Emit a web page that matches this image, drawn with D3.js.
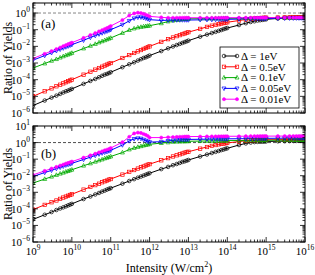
<!DOCTYPE html>
<html>
<head>
<meta charset="utf-8">
<script src="https://cdn.jsdelivr.net/npm/d3@7"></script>
<style>
body { margin: 0; background: #fff; }
text { font-family: "Liberation Serif", "DejaVu Serif", serif; }
</style>
</head>
<body>
<svg id="chart" width="315" height="275"></svg>
<script>
// intensity (W/cm^2): 1..9 x 10^n for n = 9..15, then 1e16
var intensity = [
  1e9, 2e9, 3e9, 4e9, 5e9, 6e9, 7e9, 8e9, 9e9,
  1e10, 2e10, 3e10, 4e10, 5e10, 6e10, 7e10, 8e10, 9e10,
  1e11, 2e11, 3e11, 4e11, 5e11, 6e11, 7e11, 8e11, 9e11,
  1e12, 2e12, 3e12, 4e12, 5e12, 6e12, 7e12, 8e12, 9e12,
  1e13, 2e13, 3e13, 4e13, 5e13, 6e13, 7e13, 8e13, 9e13,
  1e14, 2e14, 3e14, 4e14, 5e14, 6e14, 7e14, 8e14, 9e14,
  1e15, 2e15, 3e15, 4e15, 5e15, 6e15, 7e15, 8e15, 9e15,
  1e16
];

var labels = ["\u0394 = 1eV", "\u0394 = 0.5eV", "\u0394 = 0.1eV", "\u0394 = 0.05eV", "\u0394 = 0.01eV"];

// panel (a)
var a_1eV = [
  2.8e-6, 5.6e-6, 8.4e-6, 1.1e-5, 1.4e-5, 1.7e-5, 2.0e-5, 2.2e-5, 2.5e-5,
  2.8e-5, 5.6e-5, 8.4e-5, 1.1e-4, 1.4e-4, 1.7e-4, 2.0e-4, 2.2e-4, 2.5e-4,
  2.8e-4, 5.6e-4, 8.4e-4, 1.1e-3, 1.4e-3, 1.7e-3, 2.0e-3, 2.2e-3, 2.5e-3,
  2.8e-3, 5.2e-3, 7.6e-3, 9.8e-3, 1.2e-2, 1.4e-2, 1.6e-2, 1.8e-2, 2.0e-2,
  2.2e-2, 3.8e-2, 5.1e-2, 6.3e-2, 7.4e-2, 8.5e-2, 9.5e-2, 0.107, 0.117,
  0.126, 0.19, 0.245, 0.29, 0.32, 0.355, 0.37, 0.39, 0.41,
  0.42, 0.47, 0.51, 0.525, 0.54, 0.55, 0.555, 0.56, 0.57,
  0.575
];
var a_05eV = [
  1.0e-5, 2.0e-5, 3.0e-5, 4.0e-5, 5.0e-5, 6.0e-5, 7.0e-5, 8.0e-5, 9.0e-5,
  1.0e-4, 2.0e-4, 3.0e-4, 4.0e-4, 5.0e-4, 6.0e-4, 7.0e-4, 8.0e-4, 9.0e-4,
  1.0e-3, 2.0e-3, 3.0e-3, 4.0e-3, 5.0e-3, 6.0e-3, 7.0e-3, 8.0e-3, 9.0e-3,
  1.0e-2, 1.86e-2, 2.7e-2, 3.4e-2, 4.1e-2, 4.7e-2, 5.4e-2, 5.9e-2, 6.5e-2,
  7.1e-2, 0.112, 0.148, 0.174, 0.195, 0.214, 0.234, 0.25, 0.266,
  0.28, 0.355, 0.41, 0.447, 0.47, 0.49, 0.50, 0.51, 0.52,
  0.525, 0.54, 0.55, 0.55, 0.555, 0.56, 0.56, 0.565, 0.565,
  0.57
];
var a_01eV = [
  5.0e-4, 9.3e-4, 1.35e-3, 1.7e-3, 2.1e-3, 2.5e-3, 2.9e-3, 3.2e-3, 3.6e-3,
  4.0e-3, 7.4e-3, 1.07e-2, 1.38e-2, 1.7e-2, 2.0e-2, 2.3e-2, 2.6e-2, 2.9e-2,
  3.2e-2, 6.3e-2, 9.5e-2, 0.117, 0.135, 0.145, 0.155, 0.162, 0.168,
  0.174, 0.24, 0.31, 0.35, 0.38, 0.40, 0.42, 0.43, 0.44,
  0.45, 0.46, 0.46, 0.465, 0.47, 0.47, 0.47, 0.475, 0.475,
  0.48, 0.48, 0.485, 0.49, 0.49, 0.49, 0.495, 0.495, 0.5,
  0.5, 0.5, 0.505, 0.51, 0.51, 0.51, 0.515, 0.515, 0.52,
  0.52
];
var a_005eV = [
  1.48e-3, 2.8e-3, 4.1e-3, 5.4e-3, 6.6e-3, 7.8e-3, 9.1e-3, 1.02e-2, 1.15e-2,
  1.26e-2, 2.3e-2, 3.4e-2, 4.4e-2, 5.4e-2, 6.3e-2, 7.2e-2, 8.1e-2, 9.1e-2,
  0.1, 0.2, 0.34, 0.48, 0.55, 0.56, 0.52, 0.48, 0.44,
  0.40, 0.36, 0.37, 0.37, 0.38, 0.38, 0.38, 0.38, 0.38,
  0.38, 0.39, 0.395, 0.40, 0.405, 0.41, 0.41, 0.415, 0.415,
  0.42, 0.43, 0.44, 0.445, 0.45, 0.455, 0.46, 0.46, 0.465,
  0.47, 0.48, 0.485, 0.49, 0.49, 0.495, 0.495, 0.5, 0.5,
  0.5
];
var a_001eV = [
  1.86e-3, 3.6e-3, 5.2e-3, 6.9e-3, 8.5e-3, 1.02e-2, 1.18e-2, 1.35e-2, 1.5e-2,
  1.66e-2, 3.2e-2, 4.8e-2, 6.3e-2, 7.9e-2, 9.3e-2, 0.11, 0.126, 0.141,
  0.166, 0.38, 0.71, 0.95, 1.05, 1.0, 0.89, 0.79, 0.71,
  0.63, 0.55, 0.52, 0.52, 0.52, 0.52, 0.52, 0.52, 0.52,
  0.52, 0.52, 0.52, 0.52, 0.52, 0.52, 0.52, 0.52, 0.52,
  0.525, 0.525, 0.525, 0.525, 0.525, 0.525, 0.525, 0.525, 0.525,
  0.53, 0.53, 0.53, 0.53, 0.53, 0.53, 0.535, 0.535, 0.535,
  0.54
];

// panel (b)
var b_1eV = [
  2.3e-5, 4.4e-5, 6.4e-5, 8.5e-5, 1.05e-4, 1.23e-4, 1.41e-4, 1.62e-4, 1.8e-4,
  2.0e-4, 3.9e-4, 5.6e-4, 7.4e-4, 9.1e-4, 1.1e-3, 1.26e-3, 1.45e-3, 1.62e-3,
  1.78e-3, 3.3e-3, 4.8e-3, 6.2e-3, 7.6e-3, 8.9e-3, 1.02e-2, 1.15e-2, 1.29e-2,
  1.41e-2, 2.5e-2, 3.4e-2, 4.3e-2, 5.1e-2, 5.9e-2, 6.8e-2, 7.4e-2, 8.1e-2,
  8.9e-2, 0.145, 0.19, 0.234, 0.275, 0.31, 0.35, 0.38, 0.42,
  0.45, 0.71, 0.89, 1.0, 1.07, 1.1, 1.12, 1.13, 1.15,
  1.17, 1.2, 1.22, 1.24, 1.25, 1.26, 1.27, 1.28, 1.29,
  1.3
];
var b_05eV = [
  9.1e-5, 1.74e-4, 2.5e-4, 3.2e-4, 4.0e-4, 4.8e-4, 5.5e-4, 6.2e-4, 6.9e-4,
  7.6e-4, 1.45e-3, 2.1e-3, 2.7e-3, 3.3e-3, 4.0e-3, 4.6e-3, 5.1e-3, 5.8e-3,
  6.3e-3, 1.17e-2, 1.7e-2, 2.2e-2, 2.7e-2, 3.2e-2, 3.6e-2, 4.1e-2, 4.6e-2,
  5.0e-2, 8.5e-2, 0.115, 0.145, 0.17, 0.195, 0.22, 0.245, 0.27,
  0.28, 0.43, 0.54, 0.63, 0.71, 0.78, 0.83, 0.87, 0.91,
  0.95, 1.15, 1.29, 1.35, 1.38, 1.41, 1.43, 1.45, 1.46,
  1.48, 1.5, 1.52, 1.53, 1.54, 1.55, 1.55, 1.56, 1.56,
  1.58
];
var b_01eV = [
  3.6e-3, 6.3e-3, 8.7e-3, 1.1e-2, 1.32e-2, 1.51e-2, 1.74e-2, 1.9e-2, 2.1e-2,
  2.3e-2, 4.0e-2, 5.5e-2, 6.9e-2, 8.3e-2, 9.5e-2, 0.11, 0.12, 0.132,
  0.145, 0.25, 0.38, 0.47, 0.54, 0.6, 0.66, 0.71, 0.76,
  0.79, 0.93, 1.02, 1.1, 1.13, 1.15, 1.17, 1.18, 1.19,
  1.2, 1.23, 1.25, 1.26, 1.27, 1.28, 1.29, 1.29, 1.3,
  1.31, 1.33, 1.34, 1.35, 1.36, 1.36, 1.37, 1.37, 1.38,
  1.38, 1.39, 1.4, 1.4, 1.41, 1.41, 1.42, 1.42, 1.42,
  1.43
];
var b_005eV = [
  8.9e-3, 1.55e-2, 2.1e-2, 2.7e-2, 3.2e-2, 3.7e-2, 4.3e-2, 4.7e-2, 5.1e-2,
  5.6e-2, 9.5e-2, 0.132, 0.166, 0.2, 0.23, 0.257, 0.28, 0.31,
  0.34, 0.71, 1.26, 1.66, 1.82, 1.74, 1.51, 1.32, 1.17,
  1.07, 1.12, 1.26, 1.35, 1.41, 1.45, 1.48, 1.5, 1.52,
  1.55, 1.58, 1.6, 1.62, 1.63, 1.64, 1.65, 1.66, 1.67,
  1.68, 1.7, 1.72, 1.73, 1.74, 1.75, 1.76, 1.77, 1.78,
  1.8, 1.82, 1.84, 1.85, 1.86, 1.87, 1.88, 1.89, 1.9,
  1.9
];
var b_001eV = [
  1.12e-2, 1.95e-2, 2.7e-2, 3.4e-2, 4.1e-2, 4.7e-2, 5.4e-2, 5.9e-2, 6.5e-2,
  7.1e-2, 0.123, 0.17, 0.214, 0.257, 0.295, 0.34, 0.37, 0.41,
  0.47, 1.05, 2.24, 3.55, 4.0, 3.8, 3.3, 2.9, 2.5,
  2.0, 2.0, 2.1, 2.14, 2.19, 2.24, 2.24, 2.29, 2.29,
  2.3, 2.32, 2.34, 2.35, 2.36, 2.37, 2.38, 2.38, 2.39,
  2.4, 2.41, 2.42, 2.42, 2.43, 2.43, 2.44, 2.44, 2.45,
  2.45, 2.46, 2.46, 2.47, 2.47, 2.48, 2.48, 2.48, 2.49,
  2.5
];

var xTicks = [1e9, 1e10, 1e11, 1e12, 1e13, 1e14, 1e15, 1e16];
var xTickExp = ["9", "10", "11", "12", "13", "14", "15", "16"];

var colors = ["#000000", "#ff0000", "#00aa00", "#0000ff", "#ff00ff"];
var symbols = ["circle", "square", "triup", "tridown", "dot"];

var svg = d3.select("#chart");

var left = 33, right = 305;
var x = d3.scaleLog().domain([1e9, 1e16]).range([left, right]);

var panels = [
  { name: "(a)", series: [a_1eV, a_05eV, a_01eV, a_005eV, a_001eV], top: 3, bottom: 113, ymax: 4, yexp: [0, -1, -2, -3, -4, -5, -6], legend: true },
  { name: "(b)", series: [b_1eV, b_05eV, b_01eV, b_005eV, b_001eV], top: 126, bottom: 242, ymax: 10, yexp: [1, 0, -1, -2, -3, -4, -5, -6], legend: false }
];

function drawMarker(g, type, cx, cy, col) {
  if (type == "circle") {
    g.append("circle").attr("cx", cx).attr("cy", cy).attr("r", 1.8)
      .attr("fill", "none").attr("stroke", col).attr("stroke-width", 0.7);
  } else if (type == "square") {
    g.append("rect").attr("x", cx - 1.7).attr("y", cy - 1.7).attr("width", 3.4).attr("height", 3.4)
      .attr("fill", "none").attr("stroke", col).attr("stroke-width", 0.7);
  } else if (type == "triup") {
    g.append("path").attr("d", "M" + cx + "," + (cy - 2.2) + "L" + (cx + 2) + "," + (cy + 1.4) + "L" + (cx - 2) + "," + (cy + 1.4) + "Z")
      .attr("fill", "none").attr("stroke", col).attr("stroke-width", 0.7);
  } else if (type == "tridown") {
    g.append("path").attr("d", "M" + cx + "," + (cy + 2.2) + "L" + (cx + 2) + "," + (cy - 1.4) + "L" + (cx - 2) + "," + (cy - 1.4) + "Z")
      .attr("fill", "none").attr("stroke", col).attr("stroke-width", 0.7);
  } else {
    g.append("circle").attr("cx", cx).attr("cy", cy).attr("r", 1.6)
      .attr("fill", col).attr("stroke", col).attr("stroke-width", 0.5);
  }
}

function tenPow(sel, exp, fs, sfs) {
  sel.append("tspan").text("10").attr("font-size", fs);
  sel.append("tspan").text(exp).attr("font-size", sfs).attr("dy", -5);
}

panels.forEach(function(p, pi) {
  var y = d3.scaleLog().domain([1e-6, p.ymax]).range([p.bottom, p.top]);
  var g = svg.append("g");

  svg.append("clipPath").attr("id", "clip" + pi).append("rect")
    .attr("x", left).attr("y", p.top).attr("width", right - left).attr("height", p.bottom - p.top);

  // dashed line at ratio = 1
  g.append("line").attr("x1", left).attr("x2", right).attr("y1", y(1)).attr("y2", y(1))
    .attr("stroke", pi == 0 ? "#666" : "#222").attr("stroke-width", 0.8).attr("stroke-dasharray", "3,2");

  var plot = g.append("g").attr("clip-path", "url(#clip" + pi + ")");
  var line = d3.line().x(function(d, i) { return x(intensity[i]); }).y(function(d) { return y(d); });

  p.series.forEach(function(s, si) {
    plot.append("path").attr("d", line(s)).attr("fill", "none")
      .attr("stroke", colors[si]).attr("stroke-width", 1);
  });
  p.series.forEach(function(s, si) {
    var mg = plot.append("g");
    s.forEach(function(v, i) {
      drawMarker(mg, symbols[si], x(intensity[i]), y(v), colors[si]);
    });
  });

  // frame
  g.append("rect").attr("x", left).attr("y", p.top).attr("width", right - left).attr("height", p.bottom - p.top)
    .attr("fill", "none").attr("stroke", "#000").attr("stroke-width", 1);

  // x ticks (inward, top and bottom)
  var xt = g.append("g").attr("stroke", "#000").attr("stroke-width", 0.8);
  for (var e = 9; e <= 16; e++) {
    for (var k = 1; k <= 9; k++) {
      var v = k * Math.pow(10, e);
      if (v > 1e16) break;
      var px = x(v);
      var len = k == 1 ? 5 : 2.5;
      xt.append("line").attr("x1", px).attr("x2", px).attr("y1", p.bottom).attr("y2", p.bottom - len);
      xt.append("line").attr("x1", px).attr("x2", px).attr("y1", p.top).attr("y2", p.top + len);
    }
  }
  // y ticks (inward, left and right)
  var yt = g.append("g").attr("stroke", "#000").attr("stroke-width", 0.8);
  for (var e2 = -6; e2 <= 1; e2++) {
    for (var k2 = 1; k2 <= 9; k2++) {
      var v2 = k2 * Math.pow(10, e2);
      if (v2 > p.ymax) break;
      var py = y(v2);
      var len2 = k2 == 1 ? 5 : 2.5;
      yt.append("line").attr("x1", left).attr("x2", left + len2).attr("y1", py).attr("y2", py);
      yt.append("line").attr("x1", right).attr("x2", right - len2).attr("y1", py).attr("y2", py);
    }
  }

  // y tick labels
  p.yexp.forEach(function(ex) {
    var t = g.append("text").attr("x", 30).attr("y", y(Math.pow(10, ex)) + 4)
      .attr("text-anchor", "end").attr("fill", "#000");
    tenPow(t, ex < 0 ? "\u2212" + (-ex) : String(ex), 11, 7.5);
  });

  // panel label
  g.append("text").attr("x", 41).attr("y", p.top + (pi == 0 ? 25 : 32)).attr("font-size", 13).text(p.name);

  // y title
  var cy = (p.top + p.bottom) / 2;
  g.append("text").attr("transform", "translate(12," + cy + ") rotate(-90)")
    .attr("text-anchor", "middle").attr("font-size", 12).text("Ratio of Yields");

  if (p.legend) {
    var lg = g.append("g");
    lg.append("rect").attr("x", 220).attr("y", 47).attr("width", 79).attr("height", 61)
      .attr("fill", "#fff").attr("stroke", "#000").attr("stroke-width", 0.8);
    labels.forEach(function(lab, li) {
      var ly = 56 + li * 10.8;
      lg.append("line").attr("x1", 224).attr("x2", 237).attr("y1", ly).attr("y2", ly)
        .attr("stroke", colors[li]).attr("stroke-width", 1);
      drawMarker(lg, symbols[li], 224, ly, colors[li]);
      drawMarker(lg, symbols[li], 237, ly, colors[li]);
      lg.append("text").attr("x", 241).attr("y", ly + 3.8).attr("font-size", 11).text(lab);
    });
  }

  if (pi == 1) {
    xTicks.forEach(function(v, i) {
      var t = g.append("text").attr("x", x(v)).attr("y", p.bottom + 13)
        .attr("text-anchor", "middle").attr("fill", "#000");
      tenPow(t, xTickExp[i], 11, 7.5);
    });
    var xt2 = g.append("text").attr("x", (left + right) / 2).attr("y", 272)
      .attr("text-anchor", "middle").attr("font-size", 12);
    xt2.append("tspan").text("Intensity (W/cm");
    xt2.append("tspan").text("2").attr("font-size", 8).attr("dy", -5);
    xt2.append("tspan").text(")").attr("dy", 5);
  }
});
</script>
</body>
</html>
